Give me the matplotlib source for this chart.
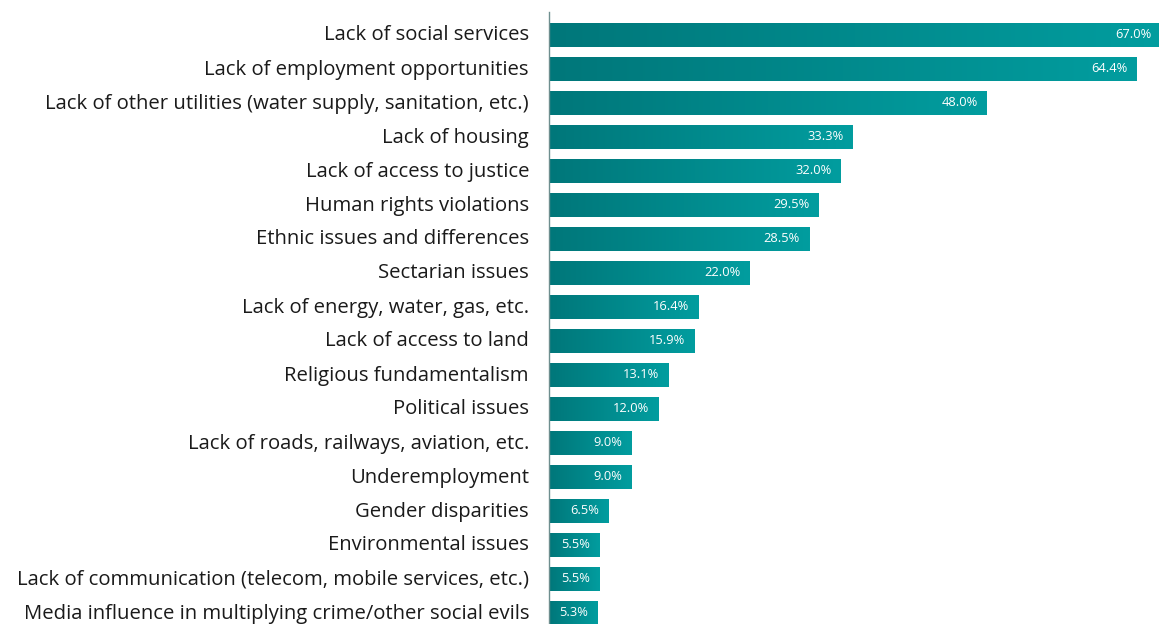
import matplotlib
matplotlib.use("Agg")
import matplotlib.pyplot as plt
import matplotlib.transforms as mtransforms
import numpy as np
from matplotlib.colors import LinearSegmentedColormap

categories = [
    "Lack of social services",
    "Lack of employment opportunities",
    "Lack of other utilities (water supply, sanitation, etc.)",
    "Lack of housing",
    "Lack of access to justice",
    "Human rights violations",
    "Ethnic issues and differences",
    "Sectarian issues",
    "Lack of energy, water, gas, etc.",
    "Lack of access to land",
    "Religious fundamentalism",
    "Political issues",
    "Lack of roads, railways, aviation, etc.",
    "Underemployment",
    "Gender disparities",
    "Environmental issues",
    "Lack of communication (telecom, mobile services, etc.)",
    "Media influence in multiplying crime/other social evils",
]
values = [67.0, 64.4, 48.0, 33.3, 32.0, 29.5, 28.5, 22.0, 16.4, 15.9,
          13.1, 12.0, 9.0, 9.0, 6.5, 5.5, 5.5, 5.3]

W, H = 1159, 624
fig = plt.figure(figsize=(W / 100, H / 100), dpi=100)
left_px, right_px, top_px, bot_px = 549, 1159, 12, 624
ax = fig.add_axes([left_px / W, 1 - bot_px / H, (right_px - left_px) / W, (bot_px - top_px) / H])

cmap = LinearSegmentedColormap.from_list("teal", ["#00777a", "#029d9f"])
grad = np.linspace(0, 1, 256).reshape(1, -1)
pos = np.arange(len(values))
bh = 0.7
bars = ax.barh(pos, values, height=bh, color="#008a8c", edgecolor="none", clip_on=False)
for b, v, y in zip(bars, values, pos):
    im = ax.imshow(grad, cmap=cmap, aspect="auto",
                   extent=(0, v, y + bh / 2, y - bh / 2), zorder=2)
    im.set_clip_path(b)
    ax.text(v - 1.0, y, f"{v:.1f}%", ha="right", va="center", color="white",
            fontsize=9.3, fontfamily="Open Sans", zorder=3)

ax.set_xlim(0, (right_px - left_px) / 9.125)
ax.set_ylim(17 + 11 / 34, -23 / 34)
ax.set_yticks(pos)
ax.set_yticklabels(categories, fontsize=14.6, color="#1a1a1a", fontfamily="Open Sans")
ax.tick_params(axis="y", length=0, pad=14.4)
shift = mtransforms.ScaledTranslation(0, 2 / 100, fig.dpi_scale_trans)
for lab in ax.get_yticklabels():
    lab.set_transform(lab.get_transform() + shift)
ax.set_xticks([])
for s in ["top", "right", "bottom"]:
    ax.spines[s].set_visible(False)
ax.spines["left"].set_color("#6f8f8f")
ax.spines["left"].set_linewidth(1)
ax.spines["left"].set_zorder(4)

fig.savefig("out.png", dpi=100)
